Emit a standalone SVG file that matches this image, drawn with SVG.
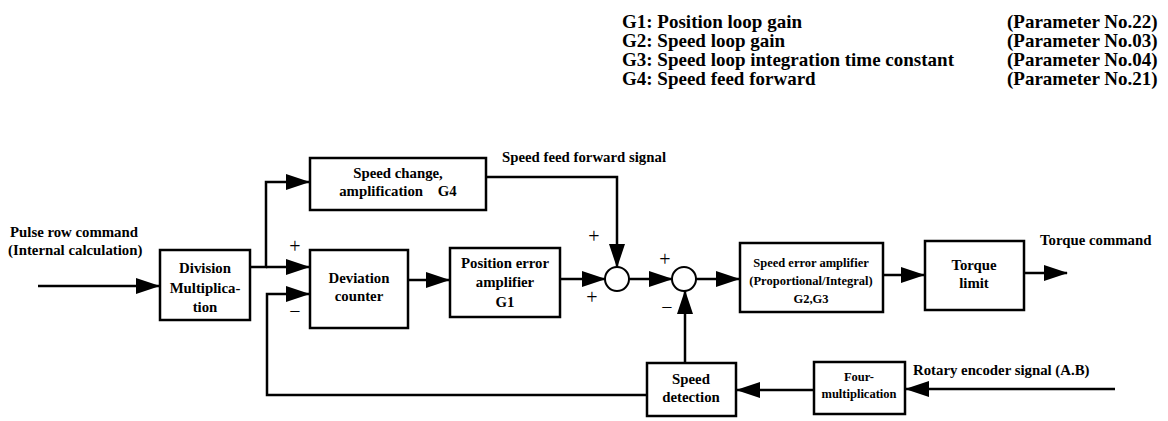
<svg xmlns="http://www.w3.org/2000/svg" width="1168" height="421" viewBox="0 0 1168 421">
<style>
  .t { font-family: "Liberation Serif", "Times New Roman", serif; font-weight: bold; fill: #000; }
  .leg { font-size: 19px; }
  .lbl { font-size: 14.8px; }
  .box { fill: #fff; stroke: #000; stroke-width: 2.5; }
  .bt { font-size: 14.8px; text-anchor: middle; }
  .st { font-size: 12.5px; text-anchor: middle; }
  .ln { fill: none; stroke: #000; stroke-width: 2.5; }
  .sum { fill: #fff; stroke: #000; stroke-width: 2; }
  .sign { font-size: 20px; font-weight: normal; text-anchor: middle; }
</style>
<defs>
  <marker id="ah" markerUnits="userSpaceOnUse" markerWidth="24" markerHeight="18" refX="23" refY="8" orient="auto">
    <path d="M0,0 L24,8 L0,16 Z" fill="#000"/>
  </marker>
</defs>
<rect width="1168" height="421" fill="#fff"/>

<g id="legend" class="t leg">
  <text x="622" y="28">G1: Position loop gain</text>
  <text x="622" y="47">G2: Speed loop gain</text>
  <text x="622" y="66">G3: Speed loop integration time constant</text>
  <text x="622" y="85">G4: Speed feed forward</text>
  <text x="1007" y="28">(Parameter No.22)</text>
  <text x="1007" y="47">(Parameter No.03)</text>
  <text x="1007" y="66">(Parameter No.04)</text>
  <text x="1007" y="85">(Parameter No.21)</text>
</g>

<g id="connectors">
  <line class="ln" x1="38" y1="286" x2="159" y2="286" marker-end="url(#ah)"/>
  <polyline class="ln" points="250,267 266,267 266,182 309,182" marker-end="url(#ah)"/>
  <line class="ln" x1="266" y1="267" x2="309" y2="267" marker-end="url(#ah)"/>
  <polyline class="ln" points="647,395 267,395 267,294 309,294" marker-end="url(#ah)"/>
  <line class="ln" x1="408" y1="280" x2="449" y2="280" marker-end="url(#ah)"/>
  <line class="ln" x1="560" y1="279" x2="605" y2="279" marker-end="url(#ah)"/>
  <polyline class="ln" points="486,177 617,177 617,267" marker-end="url(#ah)"/>
  <line class="ln" x1="629" y1="279" x2="672" y2="279" marker-end="url(#ah)"/>
  <line class="ln" x1="685" y1="363" x2="685" y2="291" marker-end="url(#ah)"/>
  <line class="ln" x1="696" y1="279" x2="739" y2="279" marker-end="url(#ah)"/>
  <line class="ln" x1="883" y1="275" x2="924" y2="275" marker-end="url(#ah)"/>
  <line class="ln" x1="1024" y1="273" x2="1067" y2="273" marker-end="url(#ah)"/>
  <line class="ln" x1="814" y1="390" x2="737" y2="390" marker-end="url(#ah)"/>
  <line class="ln" x1="1115" y1="389" x2="906" y2="389" marker-end="url(#ah)"/>
</g>

<g id="labels" class="t">
  <text class="lbl" x="10" y="237">Pulse row command</text>
  <text class="lbl" x="8" y="255">(Internal calculation)</text>
  <text class="lbl" x="502" y="162">Speed feed forward signal</text>
  <text class="lbl" x="1040" y="245">Torque command</text>
  <text class="lbl" x="913" y="375">Rotary encoder signal (A.B)</text>
  <text class="sign" x="295" y="253">+</text>
  <text class="sign" x="295" y="318">−</text>
  <text class="sign" x="594" y="243">+</text>
  <text class="sign" x="592" y="304">+</text>
  <text class="sign" x="665" y="266">+</text>
  <text class="sign" x="667" y="314">−</text>
</g>

<g id="division" class="t">
  <rect class="box" x="160" y="250" width="90" height="70"/>
  <text class="bt" x="205" y="273">Division</text>
  <text class="bt" x="205" y="293">Multiplica-</text>
  <text class="bt" x="205" y="312">tion</text>
</g>
<g id="speed-change" class="t">
  <rect class="box" x="310" y="158" width="176" height="52"/>
  <text class="bt" x="398" y="178">Speed change,</text>
  <text class="bt" x="398" y="196" xml:space="preserve">amplification    G4</text>
</g>
<g id="deviation-counter" class="t">
  <rect class="box" x="310" y="250" width="98" height="78"/>
  <text class="bt" x="359" y="283">Deviation</text>
  <text class="bt" x="359" y="301">counter</text>
</g>
<g id="position-error-amplifier" class="t">
  <rect class="box" x="450" y="248" width="110" height="69"/>
  <text class="bt" x="505" y="268">Position error</text>
  <text class="bt" x="505" y="287">amplifier</text>
  <text class="bt" x="505" y="307">G1</text>
</g>
<g id="sum1"><circle class="sum" cx="617" cy="279" r="12"/></g>
<g id="sum2"><circle class="sum" cx="684" cy="279" r="12"/></g>
<g id="speed-error-amplifier" class="t">
  <rect class="box" x="740" y="243" width="143" height="69"/>
  <text class="st" x="811" y="267">Speed error amplifier</text>
  <text class="st" x="811" y="285">(Proportional/Integral)</text>
  <text class="st" x="811" y="303">G2,G3</text>
</g>
<g id="torque-limit" class="t">
  <rect class="box" x="925" y="241" width="99" height="69"/>
  <text class="bt" x="974" y="270">Torque</text>
  <text class="bt" x="974" y="288">limit</text>
</g>
<g id="speed-detection" class="t">
  <rect class="box" x="647" y="363" width="89" height="53"/>
  <text class="bt" x="691" y="384">Speed</text>
  <text class="bt" x="691" y="402">detection</text>
</g>
<g id="four-multiplication" class="t">
  <rect class="box" x="814" y="362" width="91" height="52"/>
  <text class="st" x="859" y="381">Four-</text>
  <text class="st" x="859" y="398">multiplication</text>
</g>
</svg>
